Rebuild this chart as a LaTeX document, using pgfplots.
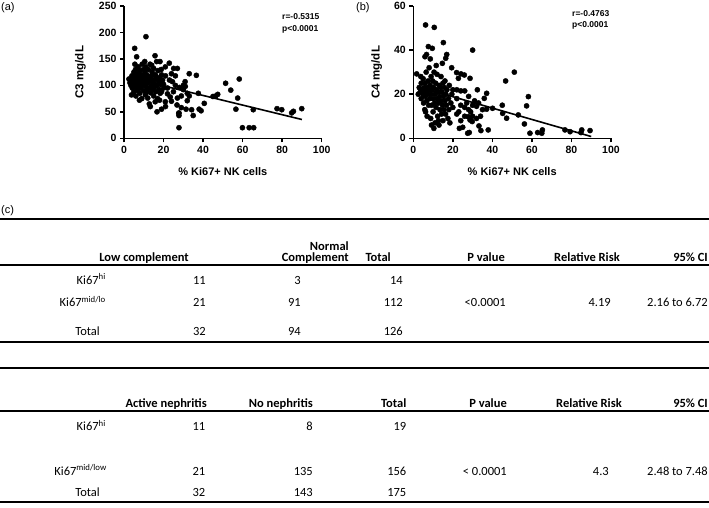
\documentclass[border=0pt]{standalone}
\usepackage{fontspec}
\setmainfont{Liberation Sans}
\newfontfamily\tabfont{Carlito}
\usepackage{pgfplots}
\pgfplotsset{compat=1.18}

\pgfplotsset{
  prism/.style={
    scale only axis, width=197.7pt, height=132.3pt,
    axis lines=left, axis line style={line width=1.5pt,-},
    xmin=0, xmax=100, xtick={0,20,...,100},
    tick align=outside, major tick length=4pt,
    tick style={line width=1.5pt, black},
    ticklabel style={font=\fontsize{10.5}{12}\selectfont\bfseries},
    /pgf/number format/assume math mode=true,
    xlabel={\% Ki67+ NK cells},
    every axis x label/.style={at={(axis description cs:0.5,-0.255)}, anchor=center,
      font=\fontsize{11}{13}\selectfont\bfseries},
    clip=false,
  },
  ylab/.style={every axis y label/.style={at={(axis description cs:#1,0.5)}, rotate=90,
      anchor=center, font=\fontsize{11.5}{13}\selectfont\bfseries}},
  dots/.style={only marks, mark=*, mark size=2.6pt, black},
  fit/.style={black, line width=1.6pt, no marks},
}

\pgfplotstableread{
x y
11.1 192
5.4 170
6.4 154
15.7 156
18.2 145
22.9 142
27 132
33 122
36.6 119
30.9 107
24.5 107
37.6 85
40.6 66
38 55
39 52
34.2 54
35 43
31.4 55
27.8 48
27.8 43
27.8 20
32 71
45 79
46.4 80
47.4 83
51.4 104
54 91
58.3 112
57.5 76
56.6 55
59.9 20
63.3 20
65.6 20
65.4 54
77.4 56
79.8 54
84.8 48
85.7 51
89.9 56
20.9 135
25.1 132
21 118
23 110
26 100
28 96
30 92
32 85
29 80
25 88
22 95
24 122
26.8 63
23.4 78
20.9 69
27.7 47
19 55
21 60
16.7 50
13.3 60
15.8 69
18 72
30 100
33 80
26 118
20 102
19 88
22 84
24 70
27 76
29 58
31 98
2.5 112
3 105
3.5 100
4 118
4.2 95
4.5 108
5 125
5 88
5.2 112
5.5 100
5.8 130
6 80
6 118
6.2 95
6.5 105
6.8 122
7 110
7 90
7.2 135
7.5 100
7.8 115
8 85
8 128
8.2 105
8.5 95
8.7 120
9 110
9 75
9.2 140
9.5 100
9.8 130
10 90
10 115
10.3 105
10.5 125
10.8 82
11 98
11 135
11.3 110
11.5 120
11.8 92
12 104
12 76
12.3 130
12.5 115
12.8 95
13 108
13.2 140
13.5 86
13.8 118
14 100
14.2 125
14.5 92
14.8 110
15 132
15 80
15.3 104
15.5 96
15.8 120
16 88
16.3 112
16.5 145
16.8 100
17 75
17.2 128
17.5 108
17.8 92
18 115
18.3 85
18.5 102
19 120
19.5 110
20 95
3.8 82
5.5 140
7.8 72
10.5 145
12.8 65
14 138
6.6 96
8.8 102
11.6 88
4.8 100
9.6 118
13.6 112
16 118
18.8 130
}\cthree

\pgfplotstableread{
x y
6.2 51.4
10.6 50.3
7.6 41.6
9.6 40.8
15.2 43.4
5.9 37
6.7 38
16.9 38
16.4 36.3
14.7 34
30 40
19.4 32
1.7 29.2
21.9 29.8
24.1 29.2
25.8 28.7
28.7 27.2
22.8 27.2
51.1 30
46.7 26
37.1 20.4
35.9 18.1
32.4 22
58.2 18.9
57.3 14.7
45 15
40.1 13.6
37.1 13.2
47.2 9.1
53.1 10.6
45.2 11.3
56.2 6.5
33.2 5.6
34.2 3.5
37.9 3.8
27.5 2.3
28.3 2.6
23.3 4.5
59 2.3
62.9 2.6
65 2.3
65.3 3.8
76.7 3.8
79.3 3
85.2 3.8
84.8 2.6
89.4 3.5
28.7 8.3
29.8 7.6
27.8 9.8
22 22
24 21.5
26 21.5
24 15
26 14
28 13
30 15
32 14.5
31 17
33 16
34 10
30 10
26 10
22 11
24 8
20 14
22 18
28 19
32 9
35 13
20 22
23 12
25 5
29 12
27 16
3 23
3.5 21
4 25
4 18
4.5 22
5 20
5 27
5.2 16
5.5 23
5.8 13
6 19
6 25
6.3 21
6.5 30
6.8 17
7 23
7 10
7.3 20
7.5 26
7.8 15
8 22
8 32
8.3 18
8.5 24
8.8 9
9 20
9 28
9.3 15
9.5 22
9.8 26
10 18
10 12
10.3 23
10.5 30
10.8 16
11 20
11 7
11.3 25
11.5 14
11.8 22
12 18
12 29
12.3 10
12.5 21
12.8 16
13 24
13 6
13.3 19
13.5 13
13.8 23
14 17
14 28
14.3 11
14.5 21
14.8 15
15 25
15 8
15.3 19
15.5 13
15.8 23
16 17
16 26
16.3 11
16.5 20
16.8 15
17 22
17.5 9
17.8 18
18 13
18.2 24
18.5 7
19 16
19.5 20
2.5 20
3.8 28
8.6 36
11.6 33
9.2 6
12.7 8
6.2 12
10.4 4.5
}\cfour

\begin{document}
\begin{tikzpicture}
\useasboundingbox (0,0) rectangle (709pt,508pt);

% (a) C3
\begin{axis}[prism, ylab=-0.22, at={(124pt,369.7pt)}, anchor=south west,
  ymin=0, ymax=250, ytick={0,50,...,250},
  ylabel={C3 mg/dL},
]
  \addplot[dots] table[x=x,y=y] {\cthree};
  \addplot[fit] coordinates {(2.5,115) (90,35.5)};
\end{axis}

% (b) C4
\begin{axis}[prism, ylab=-0.185, at={(413.3pt,369.7pt)}, anchor=south west,
  ymin=0, ymax=60, ytick={0,20,40,60},
  ylabel={C4 mg/dL},
]
  \addplot[dots] table[x=x,y=y] {\cfour};
  \addplot[fit] coordinates {(2,23.5) (90,0.8)};
\end{axis}

\begin{scope}[every node/.style={inner sep=0pt}]
\node[anchor=west, font=\fontsize{11}{13}\selectfont] at (1pt,500pt) {(a)};
\node[anchor=west, font=\fontsize{11}{13}\selectfont] at (356pt,500pt) {(b)};
\node[anchor=west, font=\fontsize{8.5}{10}\selectfont\bfseries] at (282pt,491pt) {r=-0.5315};
\node[anchor=west, font=\fontsize{8.5}{10}\selectfont\bfseries] at (282pt,479pt) {p<0.0001};
\node[anchor=west, font=\fontsize{8.5}{10}\selectfont\bfseries] at (572pt,494pt) {r=-0.4763};
\node[anchor=west, font=\fontsize{8.5}{10}\selectfont\bfseries] at (572pt,483pt) {p<0.0001};
\node[anchor=west, font=\fontsize{11}{13}\selectfont] at (1pt,297pt) {(c)};
\end{scope}

% table (c)
\begin{scope}[every node/.style={inner sep=0pt, anchor=mid east, font=\tabfont\fontsize{12.5}{14}\selectfont}]
\draw[line width=2pt] (0,289pt) -- (709pt,289pt);
\node[font=\tabfont\bfseries\fontsize{12.5}{14}\selectfont] at (349pt,260.3pt) {Normal};
\begin{scope}[every node/.append style={font=\tabfont\bfseries\fontsize{12.5}{14}\selectfont}]
\node at (189pt,249pt) {Low complement};
\node at (349pt,249pt) {Complement};
\node at (391pt,249pt) {Total};
\node at (505pt,249pt) {P value};
\node at (620pt,249pt) {Relative Risk};
\node at (708pt,249pt) {95\% CI};
\end{scope}
\draw[line width=1.2pt] (0,243pt) -- (709pt,243pt);
\node at (106pt,226.3pt) {Ki67\textsuperscript{hi}};
\node at (206pt,226.3pt) {11};
\node at (301pt,226.3pt) {3};
\node at (403pt,226.3pt) {14};
\node at (106pt,203.7pt) {Ki67\textsuperscript{mid/lo}};
\node at (206pt,203.7pt) {21};
\node at (301pt,203.7pt) {91};
\node at (403pt,203.7pt) {112};
\node at (506pt,203.7pt) {<0.0001};
\node at (611pt,203.7pt) {4.19};
\node at (708pt,203.7pt) {2.16 to 6.72};
\node at (100pt,175.3pt) {Total};
\node at (206pt,175.3pt) {32};
\node at (301pt,175.3pt) {94};
\node at (403pt,175.3pt) {126};
\draw[line width=2pt] (0,166.3pt) -- (709pt,166.3pt);

\draw[line width=2pt] (0,139.7pt) -- (709pt,139.7pt);
\begin{scope}[every node/.append style={font=\tabfont\bfseries\fontsize{12.5}{14}\selectfont}]
\node at (207pt,103pt) {Active nephritis};
\node at (313pt,103pt) {No nephritis};
\node at (406.5pt,103pt) {Total};
\node at (507pt,103pt) {P value};
\node at (622pt,103pt) {Relative Risk};
\node at (708pt,103pt) {95\% CI};
\end{scope}
\draw[line width=1.2pt] (0,97pt) -- (709pt,97pt);
\node at (106pt,79.7pt) {Ki67\textsuperscript{hi}};
\node at (205.5pt,79.7pt) {11};
\node at (313pt,79.7pt) {8};
\node at (406.5pt,79.7pt) {19};
\node at (107pt,35.3pt) {Ki67\textsuperscript{mid/low}};
\node at (205.5pt,35.3pt) {21};
\node at (313pt,35.3pt) {135};
\node at (406.5pt,35.3pt) {156};
\node at (507pt,35.3pt) {< 0.0001};
\node at (609pt,35.3pt) {4.3};
\node at (708pt,35.3pt) {2.48 to 7.48};
\node at (100pt,13.7pt) {Total};
\node at (205.5pt,13.7pt) {32};
\node at (313pt,13.7pt) {143};
\node at (406.5pt,13.7pt) {175};
\draw[line width=2pt] (0,6.3pt) -- (709pt,6.3pt);
\end{scope}
\end{tikzpicture}
\end{document}
